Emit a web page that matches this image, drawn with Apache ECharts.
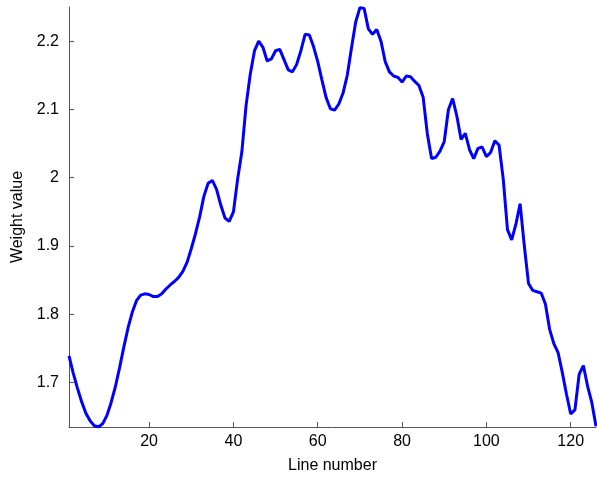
<!DOCTYPE html>
<html>
<head>
<meta charset="utf-8">
<script src="https://cdn.jsdelivr.net/npm/echarts@6/dist/echarts.min.js"></script>
<style>
  html, body { margin: 0; padding: 0; background: #fff; }
  #chart { width: 597px; height: 479px; }
</style>
</head>
<body>
<div id="chart"></div>
<script>
// Line numbers 1..126 and the weight value measured at each line
const lineNumbers = Array.from({ length: 126 }, (_, i) => i + 1);
const weightValues = [
  1.739, 1.714, 1.692, 1.672, 1.655, 1.644, 1.637, 1.635, 1.640, 1.652,
  1.671, 1.694, 1.722, 1.752, 1.780, 1.803, 1.820, 1.828, 1.830, 1.829,
  1.826, 1.826, 1.830, 1.837, 1.843, 1.848, 1.854, 1.863, 1.876, 1.896,
  1.918, 1.943, 1.973, 1.992, 1.996, 1.983, 1.960, 1.941, 1.936, 1.950,
  1.998, 2.038, 2.106, 2.152, 2.186, 2.200, 2.191, 2.171, 2.174, 2.186,
  2.188, 2.173, 2.158, 2.155, 2.166, 2.186, 2.210, 2.209, 2.192, 2.170,
  2.143, 2.117, 2.101, 2.099, 2.108, 2.124, 2.150, 2.190, 2.228, 2.249,
  2.248, 2.218, 2.210, 2.217, 2.200, 2.170, 2.155, 2.149, 2.147, 2.140,
  2.149, 2.148, 2.141, 2.135, 2.118, 2.064, 2.028, 2.030, 2.039, 2.053,
  2.100, 2.116, 2.090, 2.056, 2.065, 2.041, 2.028, 2.043, 2.045, 2.031,
  2.037, 2.054, 2.048, 1.998, 1.924, 1.909, 1.932, 1.962, 1.900, 1.845,
  1.835, 1.833, 1.831, 1.815, 1.778, 1.757, 1.744, 1.715, 1.683, 1.654,
  1.660, 1.712, 1.725, 1.695, 1.671, 1.636
];
const xTicks = [20, 40, 60, 80, 100, 120];
const yTicks = [1.7, 1.8, 1.9, 2.0, 2.1, 2.2];

const font = 'Liberation Sans, Arial, Helvetica, sans-serif';
const axisColor = '#555';

const chart = echarts.init(document.getElementById('chart'));
chart.setOption({
  animation: false,
  backgroundColor: '#fff',
  grid: { left: 69, right: 1, top: 7, bottom: 51, containLabel: false },
  xAxis: {
    type: 'value',
    min: 1,
    max: 126,
    name: 'Line number',
    nameLocation: 'middle',
    nameGap: 31,
    nameTextStyle: { color: '#000', fontSize: 16, fontFamily: font },
    axisLine: { show: true, onZero: false, lineStyle: { color: axisColor, width: 1 } },
    axisTick: { show: true, inside: true, length: 5, customValues: xTicks, lineStyle: { color: axisColor } },
    axisLabel: { customValues: xTicks, color: '#000', fontSize: 16, fontFamily: font, margin: 7 },
    splitLine: { show: false }
  },
  yAxis: {
    type: 'value',
    min: 1.635,
    max: 2.25,
    name: 'Weight value',
    nameLocation: 'middle',
    nameGap: 42,
    nameTextStyle: { color: '#000', fontSize: 16, fontFamily: font },
    axisLine: { show: true, onZero: false, lineStyle: { color: axisColor, width: 1 } },
    axisTick: { show: true, inside: true, length: 5, customValues: yTicks, lineStyle: { color: axisColor } },
    axisLabel: {
      customValues: yTicks,
      color: '#000', fontSize: 16, fontFamily: font, margin: 10,
      formatter: v => String(Number(v.toFixed(1)))
    },
    splitLine: { show: false }
  },
  series: [{
    type: 'line',
    data: lineNumbers.map((x, i) => [x, weightValues[i]]),
    showSymbol: false,
    clip: true,
    lineStyle: { color: '#0000ff', width: 3 },
    itemStyle: { color: '#0000ff' }
  }]
});
</script>
</body>
</html>
